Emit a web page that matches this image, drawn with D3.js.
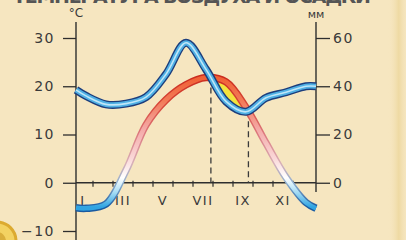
<!DOCTYPE html>
<html lang="ru">
<head>
<meta charset="UTF-8">
<title>Температура воздуха и осадки</title>
<style>
    body {
        margin: 0;
        overflow: hidden;
        background: #f6e6c0;
    }
    svg {
        display: block;
        font-family: 'DejaVu Sans', sans-serif;
    }
</style>
<script src="https://cdn.jsdelivr.net/npm/d3@7"></script>
</head>
<body>
<svg id="chart" width="406" height="240"></svg>
<script>
    // monthly values
    const months = ["I", "II", "III", "IV", "V", "VI", "VII", "VIII", "IX", "X", "XI", "XII"];
    const temperature = [-5.3, -4.4, 2.6, 12.0, 17.2, 20.3, 21.8, 20.9, 15.6, 8.2, 1.1, -4.1];
    const temperatureEnds = [-5.2, -5.3];   // value at start / end of the year
    const precipitation = [36, 32.5, 32.8, 35.5, 45, 58, 47, 33.7, 29.4, 35.2, 37.5, 40];
    const precipitationEnds = [38.5, 40];
    const tempTicks = [-10, 0, 10, 20, 30];
    const precipTicks = [0, 20, 40, 60];
    const title = "ТЕМПЕРАТУРА ВОЗДУХА И ОСАДКИ";

    const W = 406, H = 240;
    const svg = d3.select("#chart");

    const x = d3.scaleLinear().domain([0, 12]).range([76, 316]);
    const monthBand = d3.scaleBand().domain(months).range([73, 313]);
    const yT = d3.scaleLinear().domain([-10, 30]).range([231, 38]);
    const yP = d3.scaleLinear().domain([0, 60]).range([yT(0), yT(30)]);

    const withEnds = (vals, ends) => [{ m: 0, v: ends[0] }]
        .concat(vals.map((v, i) => ({ m: i + 0.5, v: v })))
        .concat([{ m: 12, v: ends[1] }]);
    const tempPts = withEnds(temperature, temperatureEnds);
    const precipPts = withEnds(precipitation, precipitationEnds);

    const curveT = d3.curveCatmullRom.alpha(0.5);
    const curveP = d3.curveCatmullRom.alpha(0.5);

    const defs = svg.append("defs");

    // vertical gradients for the temperature band
    function tempGradient(id, stops) {
        const g = defs.append("linearGradient")
            .attr("id", id)
            .attr("gradientUnits", "userSpaceOnUse")
            .attr("x1", 0).attr("x2", 0)
            .attr("y1", yT(23)).attr("y2", yT(-6));
        stops.forEach(s => {
            g.append("stop")
                .attr("offset", (yT(s[0]) - yT(23)) / (yT(-6) - yT(23)))
                .attr("stop-color", s[1]);
        });
    }
    tempGradient("tOuter", [[23, "#c8281a"], [16, "#d8483a"], [10, "#dc7a80"], [4, "#d8b0b8"], [0, "#90b0d0"], [-5, "#1a5aa0"]]);
    tempGradient("tInner", [[23, "#f05a2c"], [17, "#f27a58"], [11, "#f4aaa8"], [5, "#fad8d8"], [1, "#ffffff"], [-2, "#a6dcf4"], [-5, "#30a4e2"]]);

    const edge = defs.append("linearGradient").attr("id", "edge");
    edge.append("stop").attr("offset", 0).attr("stop-color", "#f6e6c0").attr("stop-opacity", 0);
    edge.append("stop").attr("offset", 0.6).attr("stop-color", "#e8cf8a").attr("stop-opacity", 0.55);
    edge.append("stop").attr("offset", 1).attr("stop-color", "#f4e4bc").attr("stop-opacity", 0.3);

    svg.append("rect").attr("width", W).attr("height", H).attr("fill", "#f6e6c0");
    svg.append("rect").attr("x", 388).attr("width", 18).attr("height", H).attr("fill", "url(#edge)");

    // title, mostly cut off at the top edge
    svg.append("text")
        .attr("x", 13).attr("y", 3)
        .attr("textLength", 358).attr("lengthAdjust", "spacing")
        .attr("font-size", 19).attr("font-weight", "bold")
        .attr("fill", "#555")
        .text(title);

    // decorative medallion in the bottom-left corner
    svg.append("circle").attr("cx", -3).attr("cy", 241).attr("r", 19)
        .attr("fill", "#f3d262").attr("stroke", "#dcaa30").attr("stroke-width", 3);
    svg.append("circle").attr("cx", -3).attr("cy", 241).attr("r", 9).attr("fill", "#d9ae3c");

    // dry period: below the temperature line and above the precipitation line
    const tempArea = d3.area().x(d => x(d.m)).y0(H).y1(d => yT(d.v)).curve(curveT);
    const wetArea = d3.area().x(d => x(d.m)).y0(0).y1(d => yP(d.v)).curve(curveP);
    defs.append("clipPath").attr("id", "dry").append("path").attr("d", wetArea(precipPts));
    svg.append("path")
        .attr("d", tempArea(tempPts))
        .attr("fill", "#f3e33e")
        .attr("clip-path", "url(#dry)");

    // axes
    const axisColor = "#2e2e2e";
    const left = svg.append("g").attr("transform", `translate(${x(0)},0)`)
        .call(d3.axisLeft(yT).tickValues(tempTicks).tickSize(13).tickPadding(8));
    const right = svg.append("g").attr("transform", `translate(${x(12)},0)`)
        .call(d3.axisRight(yP).tickValues(precipTicks).tickSize(14).tickPadding(3));
    [left, right].forEach(g => {
        g.select(".domain").remove();
        g.selectAll("line").attr("stroke", axisColor).attr("stroke-width", 1.3);
        g.selectAll("text")
            .attr("font-size", 14)
            .attr("letter-spacing", 1.5)
            .attr("font-family", "'DejaVu Sans', sans-serif")
            .attr("fill", "#3a3a3a");
    });
    svg.append("line").attr("x1", x(0)).attr("x2", x(0)).attr("y1", 22).attr("y2", H)
        .attr("stroke", axisColor).attr("stroke-width", 1.4);
    svg.append("line").attr("x1", x(12)).attr("x2", x(12)).attr("y1", 22).attr("y2", 192)
        .attr("stroke", axisColor).attr("stroke-width", 1.4);
    svg.append("line").attr("x1", x(0)).attr("x2", x(12)).attr("y1", yT(0)).attr("y2", yT(0))
        .attr("stroke", axisColor).attr("stroke-width", 1.3);

    svg.selectAll(".mtick")
        .data(months.slice(1))
        .enter().append("line")
        .attr("class", "mtick")
        .attr("x1", d => monthBand(d)).attr("x2", d => monthBand(d))
        .attr("y1", yT(0) - 2).attr("y2", yT(0) + 4)
        .attr("stroke", axisColor).attr("stroke-width", 1.2);

    svg.selectAll(".mlabel")
        .data(months.filter((d, i) => i % 2 === 0))
        .enter().append("text")
        .attr("class", "mlabel")
        .attr("x", d => monthBand(d) + monthBand.bandwidth() / 2)
        .attr("y", yT(0) + 22)
        .attr("text-anchor", "middle")
        .attr("font-size", 13)
        .attr("letter-spacing", 1.5)
        .attr("fill", "#3a3a3a")
        .text(d => d);

    svg.append("text").attr("x", x(0)).attr("y", 17).attr("text-anchor", "middle")
        .attr("font-size", 12).attr("fill", "#3a3a3a").text("°C");
    svg.append("text").attr("x", x(12)).attr("y", 18).attr("text-anchor", "middle")
        .attr("font-size", 11).attr("fill", "#3a3a3a").text("мм");

    // curves
    const tempLine = d3.line().x(d => x(d.m)).y(d => yT(d.v)).curve(curveT);
    const precipLine = d3.line().x(d => x(d.m)).y(d => yP(d.v)).curve(curveP);

    const tOuter = svg.append("path").attr("class", "t-outer").attr("d", tempLine(tempPts))
        .attr("fill", "none").attr("stroke", "url(#tOuter)").attr("stroke-width", 7.5);
    svg.append("path").attr("d", tempLine(tempPts))
        .attr("fill", "none").attr("stroke", "url(#tInner)").attr("stroke-width", 4.6);

    const pOuter = svg.append("path").attr("d", precipLine(precipPts))
        .attr("fill", "none").attr("stroke", "#1d3e7c").attr("stroke-width", 8);
    svg.append("path").attr("d", precipLine(precipPts))
        .attr("fill", "none").attr("stroke", "#4fb0e4").attr("stroke-width", 5.2);
    svg.append("path").attr("d", precipLine(precipPts))
        .attr("fill", "none").attr("stroke", "#bfe6f8").attr("stroke-width", 1.6);

    // dashed lines where the two curves cross (start and end of the dry period)
    function sampler(node) {
        const L = node.getTotalLength();
        const pts = d3.range(0, 1001).map(i => node.getPointAtLength(L * i / 1000));
        const bis = d3.bisector(p => p.x).left;
        return xv => {
            const i = Math.max(1, Math.min(pts.length - 1, bis(pts, xv)));
            const a = pts[i - 1], b = pts[i];
            const t = b.x === a.x ? 0 : (xv - a.x) / (b.x - a.x);
            return a.y + t * (b.y - a.y);
        };
    }
    const tY = sampler(tOuter.node());
    const pY = sampler(pOuter.node());
    const crossings = [];
    let prev = null;
    for (let xv = x(0) + 1; xv <= x(12) - 1; xv += 0.25) {
        const diff = tY(xv) - pY(xv);
        if (prev !== null && Math.sign(diff) !== Math.sign(prev.diff)) {
            const xc = prev.x + (xv - prev.x) * prev.diff / (prev.diff - diff);
            crossings.push({ x: xc, y: tY(xc) });
        }
        prev = { x: xv, diff: diff };
    }
    svg.selectAll(".dash")
        .data(crossings)
        .enter().insert("line", ".t-outer")
        .attr("class", "dash")
        .attr("x1", d => d.x).attr("x2", d => d.x)
        .attr("y1", d => d.y).attr("y2", yT(0))
        .attr("stroke", "#3a3a3a").attr("stroke-width", 1.3)
        .attr("stroke-dasharray", "6,4");
</script>
</body>
</html>
